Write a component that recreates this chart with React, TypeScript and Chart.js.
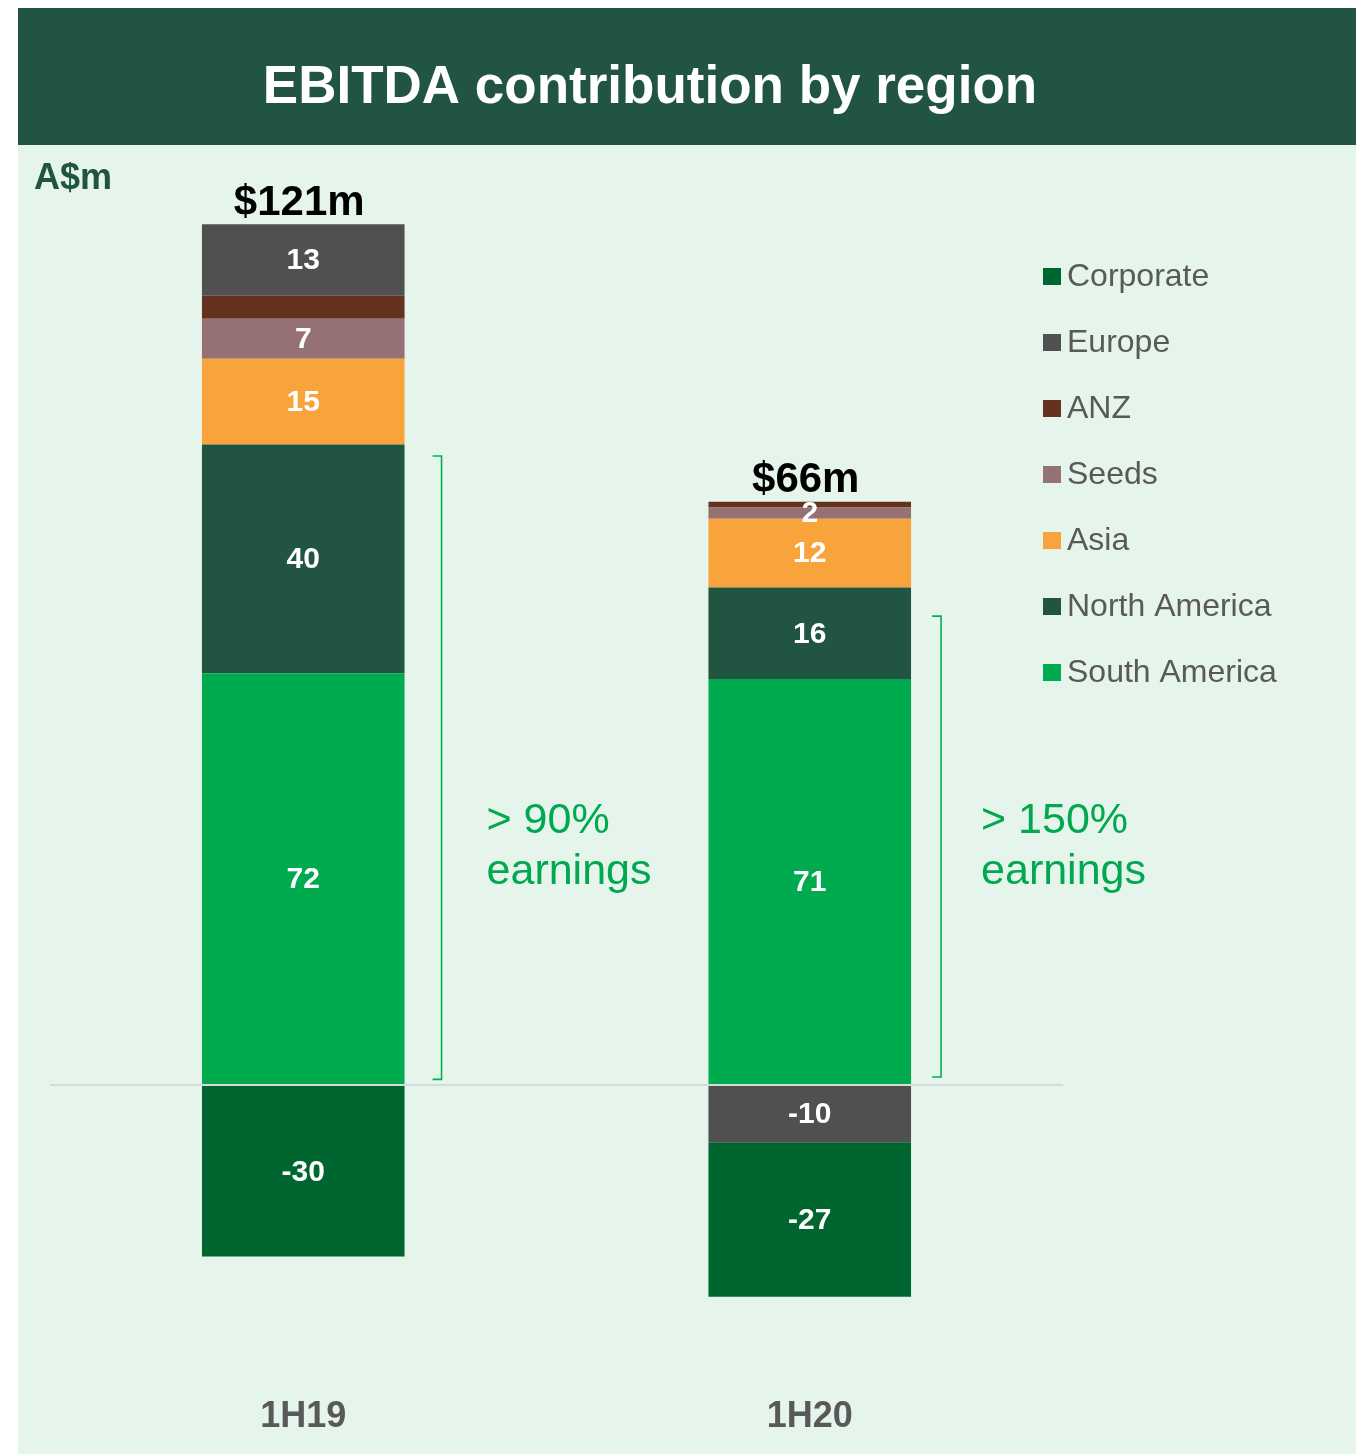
import { useEffect, useRef } from 'react';
import { Chart, registerables } from 'chart.js';

Chart.register(...registerables);

// ---------- data ----------
const categories = ['1H19', '1H20'];
const seriesNames = ['South America', 'North America', 'Asia', 'Seeds', 'ANZ', 'Europe', 'Corporate'];
const southAmerica = [72, 71];
const northAmerica = [40, 16];
const asia = [15, 12];
const seeds = [7, 2];
const anz = [4, 1];
const europe = [12.5, -10];
const corporate = [-30, -27];
const totalLabels = ['$121m', '$66m'];
const unlabelledSeries = ['ANZ'];
const bracketFrom = [1, 1.4];
const bracketTo = [110, 82];
const annotationLines = [
  ['> 90%', 'earnings'],
  ['> 150%', 'earnings'],
];
const TITLE = 'EBITDA contribution by region';
const UNIT = 'A$m';
const Y_MIN = -50;
const Y_MAX = 160;

// ---------- style ----------
const FONT = '"Liberation Sans", Arial, Helvetica, sans-serif';
const PANEL_BG = '#E6F5EC';
const BANNER = '#215541';
const seriesColors = ['#00AA4F', '#215541', '#F9A33C', '#967173', '#663220', '#505050', '#00662F'];
const ANNOT_GREEN = '#00A84F';
const BRACKET_GREEN = '#00B050';

const panelPlugin = {
  id: 'panel',
  beforeDraw(chart: any) {
    const { ctx, width, height } = chart;
    ctx.save();
    ctx.fillStyle = PANEL_BG;
    ctx.fillRect(0, 0, width, height);
    ctx.fillStyle = BANNER;
    ctx.fillRect(0, 0, width, 137);
    ctx.fillStyle = '#FFFFFF';
    ctx.font = `bold 53px ${FONT}`;
    ctx.textAlign = 'center';
    ctx.textBaseline = 'alphabetic';
    ctx.fillText(TITLE, 632, 95);
    ctx.fillStyle = '#215541';
    ctx.font = `bold 36px ${FONT}`;
    ctx.textAlign = 'left';
    ctx.fillText(UNIT, 16, 181);
    ctx.restore();
  },
};

const labelsPlugin = {
  id: 'segLabels',
  afterDatasetsDraw(chart: any) {
    const { ctx } = chart;
    const yScale = chart.scales.y;
    ctx.save();
    ctx.textAlign = 'center';
    ctx.textBaseline = 'middle';
    // segment labels
    ctx.font = `bold 30px ${FONT}`;
    ctx.fillStyle = '#FFFFFF';
    chart.data.datasets.forEach((ds: any, i: number) => {
      if (unlabelledSeries.includes(ds.label)) return;
      const meta = chart.getDatasetMeta(i);
      meta.data.forEach((el: any, j: number) => {
        const v = ds.data[j];
        const cy = (el.y + el.base) / 2;
        ctx.fillText(String(Math.round(v)), el.x, cy + 1);
      });
    });
    // totals
    ctx.font = `bold 42px ${FONT}`;
    ctx.fillStyle = '#000000';
    categories.forEach((_, j) => {
      let top = Infinity;
      let x = 0;
      chart.data.datasets.forEach((ds: any, i: number) => {
        const el = chart.getDatasetMeta(i).data[j];
        if (ds.data[j] > 0 && el.y < top) {
          top = el.y;
          x = el.x;
        }
      });
      ctx.fillText(totalLabels[j], x - 4, top - 21);
    });
    // brackets + annotation text
    const bracketDx = [37, 30];
    const textDx = [82, 70];
    const el0 = chart.getDatasetMeta(0).data;
    categories.forEach((_, j) => {
      const el = el0[j];
      const right = el.x + el.width / 2;
      const bx = right + bracketDx[j];
      const yTop = yScale.getPixelForValue(bracketTo[j]);
      const yBot = yScale.getPixelForValue(bracketFrom[j]);
      ctx.strokeStyle = BRACKET_GREEN;
      ctx.lineWidth = 1.6;
      ctx.beginPath();
      ctx.moveTo(bx - 9, yTop);
      ctx.lineTo(bx, yTop);
      ctx.lineTo(bx, yBot);
      ctx.lineTo(bx - 9, yBot);
      ctx.stroke();
      ctx.fillStyle = ANNOT_GREEN;
      ctx.font = `43px ${FONT}`;
      ctx.textAlign = 'left';
      ctx.textBaseline = 'alphabetic';
      const base = yScale.getPixelForValue(44);
      annotationLines[j].forEach((line, k) => {
        ctx.fillText(line, right + textDx[j], base + k * 51);
      });
      ctx.textAlign = 'center';
      ctx.textBaseline = 'middle';
    });
    ctx.restore();
  },
};

const legendPlugin = {
  id: 'sideLegend',
  afterDraw(chart: any) {
    const { ctx } = chart;
    ctx.save();
    ctx.font = `32px ${FONT}`;
    ctx.textAlign = 'left';
    ctx.textBaseline = 'middle';
    const items = [...chart.data.datasets].reverse();
    items.forEach((ds: any, k: number) => {
      const cy = 268 + k * 66;
      ctx.fillStyle = ds.backgroundColor;
      ctx.fillRect(1025, cy - 8, 18, 17);
      ctx.fillStyle = '#595959';
      ctx.fillText(ds.label, 1049, cy + 1);
    });
    ctx.restore();
  },
};

export default function App() {
  const ref = useRef<HTMLCanvasElement>(null);
  useEffect(() => {
    if (!ref.current) return;
    Chart.defaults.font.family = FONT;
    const values = [southAmerica, northAmerica, asia, seeds, anz, europe, corporate];
    const chart = new Chart(ref.current, {
      type: 'bar',
      data: {
        labels: categories,
        datasets: seriesNames.map((name, i) => ({
          label: name,
          data: values[i],
          backgroundColor: seriesColors[i],
          borderWidth: 0,
          barPercentage: 0.4,
          categoryPercentage: 1,
        })),
      },
      options: {
        responsive: false,
        animation: false,
        layout: { padding: { left: 32, right: 293, top: 162, bottom: 0 } },
        plugins: {
          legend: { display: false },
          tooltip: { enabled: false },
          title: { display: false },
        },
        scales: {
          x: {
            stacked: true,
            grid: { display: false, drawTicks: false },
            border: { display: false },
            ticks: {
              padding: 24,
              color: '#595959',
              font: { family: FONT, size: 36, weight: 'bold' },
            },
            afterFit: (scale: any) => {
              scale.height = 83;
            },
          },
          y: {
            stacked: true,
            min: Y_MIN,
            max: Y_MAX,
            ticks: { display: false, stepSize: 10 },
            border: { display: false },
            grid: {
              z: 1,
              drawTicks: false,
              lineWidth: 2,
              color: (c: any) => (c.tick && c.tick.value === 0 ? '#D9D9D9' : 'rgba(0,0,0,0)'),
            },
            afterFit: (scale: any) => {
              scale.width = 0;
            },
          },
        },
      } as any,
      plugins: [panelPlugin, labelsPlugin, legendPlugin],
    });
    return () => chart.destroy();
  }, []);
  return (
    <div style={{ position: 'absolute', left: 18, top: 8 }}>
      <canvas ref={ref} width={1338} height={1446} style={{ display: 'block' }} />
    </div>
  );
}
